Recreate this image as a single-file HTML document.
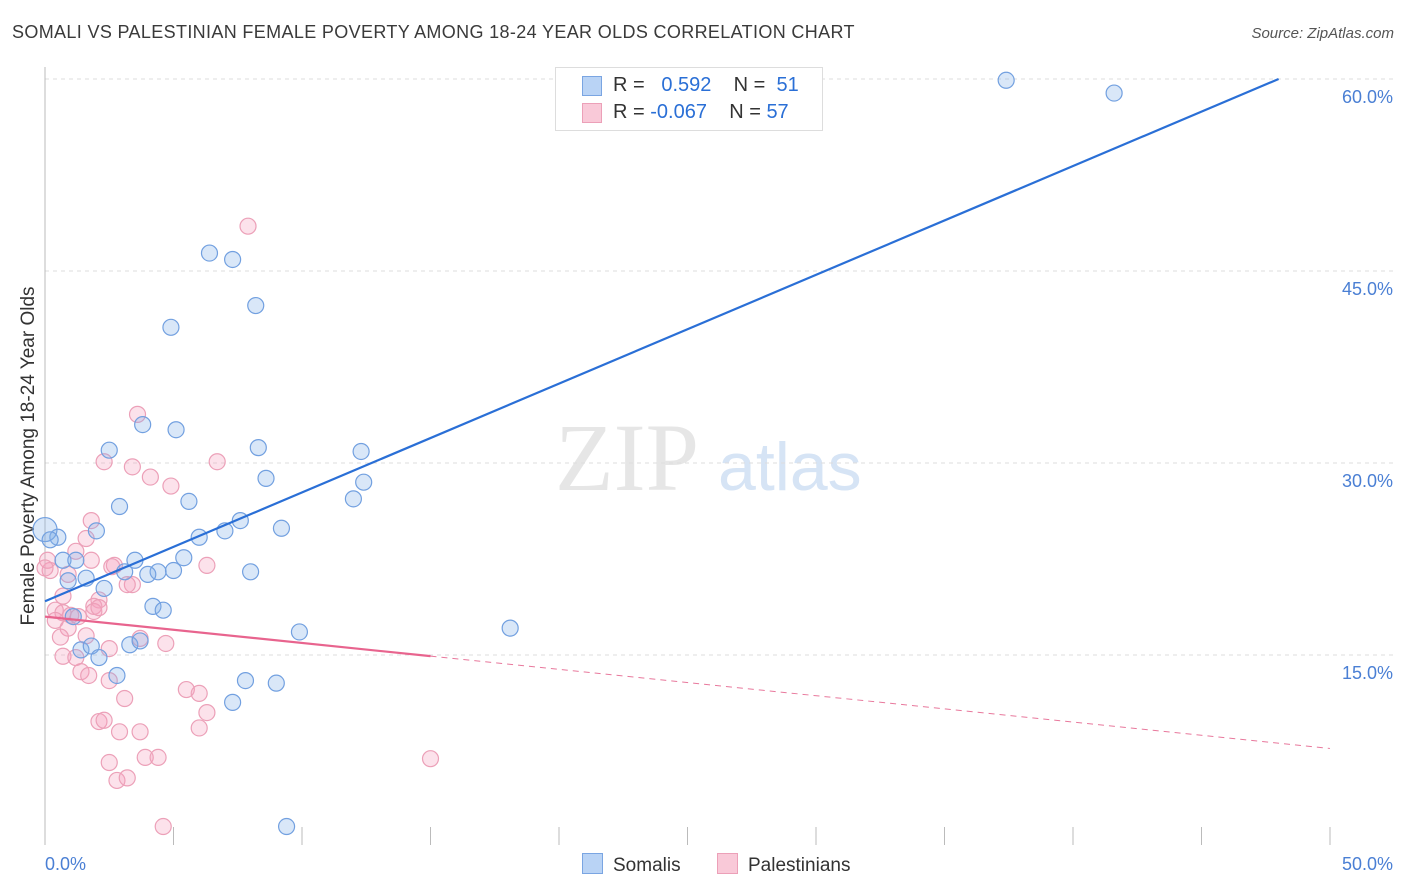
<!DOCTYPE html>
<html><head><meta charset="utf-8"><style>
body{margin:0;background:#fff;font-family:"Liberation Sans",sans-serif}
#wrap{position:relative;width:1406px;height:892px}
.t{position:absolute;white-space:nowrap}
</style></head><body>
<div id="wrap">
<div class="t" style="left:12px;top:22px;font-size:18px;letter-spacing:0.35px;color:#3a3a3a">SOMALI VS PALESTINIAN FEMALE POVERTY AMONG 18-24 YEAR OLDS CORRELATION CHART</div>
<div class="t" style="right:12px;top:25px;font-size:15px;color:#555;font-style:italic">Source: ZipAtlas.com</div>
<svg id="chart" width="1406" height="892" style="position:absolute;left:0;top:0"></svg>
</div>
<script>
const somaliX=[37.4,41.6,6.4,7.3,4.9,8.2,3.8,5.1,2.5,8.3,12.3,8.6,12.4,12.0,5.6,2.9,7.6,9.2,7.0,6.0,2.0,0.5,0.0,3.5,5.4,4.4,5.0,4.0,3.1,0.7,1.2,0.9,2.3,1.6,8.0,4.2,4.6,1.1,3.3,3.7,1.4,1.8,2.1,2.8,7.8,9.0,7.3,9.9,18.1,9.4,0.2];
const somaliY=[59.9,58.9,46.4,45.9,40.6,42.3,33.0,32.6,31.0,31.2,30.9,28.8,28.5,27.2,27.0,26.6,25.5,24.9,24.7,24.2,24.7,24.2,24.8,22.4,22.6,21.5,21.6,21.3,21.5,22.4,22.4,20.8,20.2,21.0,21.5,18.8,18.5,18.0,15.8,16.1,15.4,15.7,14.8,13.4,13.0,12.8,11.3,16.8,17.1,1.6,24.0];
const palX=[7.9,3.6,2.3,6.7,3.4,4.1,4.9,1.8,1.6,1.2,1.8,2.7,6.3,3.4,3.2,0.2,0.9,0.7,2.1,1.9,1.9,0.4,0.7,1.0,0.4,0.9,0.6,1.6,3.7,4.7,0.7,1.2,1.4,1.7,2.5,3.1,5.5,6.0,6.3,6.0,2.1,2.3,2.9,3.7,2.5,3.9,4.4,2.8,3.2,4.6,15.0,2.5,2.1,0.1,0.0,1.3,2.6];
const palY=[48.5,33.8,30.1,30.1,29.7,28.9,28.2,25.5,24.1,23.1,22.4,22.0,22.0,20.5,20.5,21.6,21.3,19.6,19.3,18.8,18.4,18.5,18.3,18.1,17.7,17.1,16.4,16.5,16.3,15.9,14.9,14.8,13.7,13.4,13.0,11.6,12.3,12.0,10.5,9.3,9.8,9.9,9.0,9.0,6.6,7.0,7.0,5.2,5.4,1.6,6.9,15.5,18.7,22.4,21.8,18.0,21.9];
const somaliTrend=[19.2,0.85]; // intercept, slope
const palTrend=[18.0,-0.206];
const xTicks=["0.0%","50.0%"];
const yTickVals=[15,30,45,60];
const yTickLabels=["15.0%","30.0%","45.0%","60.0%"];

const svg=document.getElementById('chart');
const NS='http://www.w3.org/2000/svg';
const X=v=>45+v*25.7, Y=v=>847-v*12.8;
function mk(tag,attrs,parent){const e=document.createElementNS(NS,tag);for(const k in attrs)e.setAttribute(k,attrs[k]);(parent||svg).appendChild(e);return e;}

let wm=mk('text',{x:555,y:490,'font-size':96,fill:'#e6e6e6','font-family':'Liberation Serif, serif'});wm.textContent='ZIP';


let wm2=mk('text',{x:718,y:490,'font-size':68,fill:'#d6e4f5','font-family':'Liberation Sans, sans-serif'});wm2.textContent='atlas';



yTickVals.forEach((v,i)=>{
  const g=mk('line',{x1:45,x2:1393,y1:Y(v),y2:Y(v),stroke:'#ddd','stroke-dasharray':'4,4'});
  
  
  const t=mk('text',{x:1393,y:Y(v)+24,'text-anchor':'end','font-size':18,fill:'#4a7fd4'});t.textContent=yTickLabels[i];
  
  
});
mk('line',{x1:45,x2:45,y1:67,y2:845,stroke:'#bbb'});
for(let i=0;i<=10;i++){const xx=X(i*5);const tk=mk('line',{x1:xx,x2:xx,y1:827,y2:845,stroke:'#bbb'});
  
  }
[[0,'start'],[50,'end']].forEach((p,i)=>{const t=mk('text',{x:i?1393:45,y:870,'text-anchor':p[1],'font-size':18,fill:'#4a7fd4'});t.textContent=xTicks[i];
  
  });
const yt=mk('text',{x:0,y:0,'font-size':19,fill:'#333','text-anchor':'middle',transform:'translate(34,456) rotate(-90)'});yt.textContent='Female Poverty Among 18-24 Year Olds';



palX.forEach((v,i)=>{const c=mk('circle',{cx:X(v),cy:Y(palY[i]),r:8,fill:'rgba(244,160,188,0.3)',stroke:'#eca0b8','stroke-width':1.2});
  
  });
somaliX.forEach((v,i)=>{const c=mk('circle',{cx:X(v),cy:Y(somaliY[i]),r:(i==22?12:8),fill:'rgba(130,175,232,0.3)',stroke:'#72a0e0','stroke-width':1.2});
  
  });

const bl=mk('line',{x1:X(0),y1:Y(somaliTrend[0]),x2:X(48),y2:Y(somaliTrend[0]+somaliTrend[1]*48),stroke:'#2a6fd6','stroke-width':2.2});


const pl=mk('line',{x1:X(0),y1:Y(palTrend[0]),x2:X(15),y2:Y(palTrend[0]+palTrend[1]*15),stroke:'#e8648e','stroke-width':2.2});


const pd=mk('line',{x1:X(15),y1:Y(palTrend[0]+palTrend[1]*15),x2:X(50),y2:Y(palTrend[0]+palTrend[1]*50),stroke:'#e8789c','stroke-width':1,'stroke-dasharray':'6,5'});


</script>
<div class="t" style="left:555px;top:67px;width:266px;height:62px;border:1px solid #ddd;background:#fff;font-size:20px">
  <div style="position:absolute;left:26px;top:8px;width:18px;height:18px;background:#b9d3f5;border:1px solid #7aa5e2"></div>
  <div class="t" style="left:57px;top:6px;color:#333">R = <span style="color:#2a6fd6">&nbsp;&nbsp;0.592</span>&nbsp;&nbsp;&nbsp; N = <span style="color:#2a6fd6">&nbsp;51</span></div>
  <div style="position:absolute;left:26px;top:35px;width:18px;height:18px;background:#f9c9d8;border:1px solid #eca0b8"></div>
  <div class="t" style="left:57px;top:33px;color:#333">R = <span style="color:#2a6fd6">-0.067</span>&nbsp;&nbsp;&nbsp; N = <span style="color:#2a6fd6">57</span></div>
</div>
<div class="t" style="left:582px;top:853px;font-size:19px;color:#333">
  <span style="display:inline-block;width:19px;height:19px;background:#b9d3f5;border:1px solid #7aa5e2;vertical-align:-3px;margin-right:10px"></span>Somalis</div>
<div class="t" style="left:717px;top:853px;font-size:19px;color:#333">
  <span style="display:inline-block;width:19px;height:19px;background:#f9c9d8;border:1px solid #eca0b8;vertical-align:-3px;margin-right:10px"></span>Palestinians</div>
</body></html>
